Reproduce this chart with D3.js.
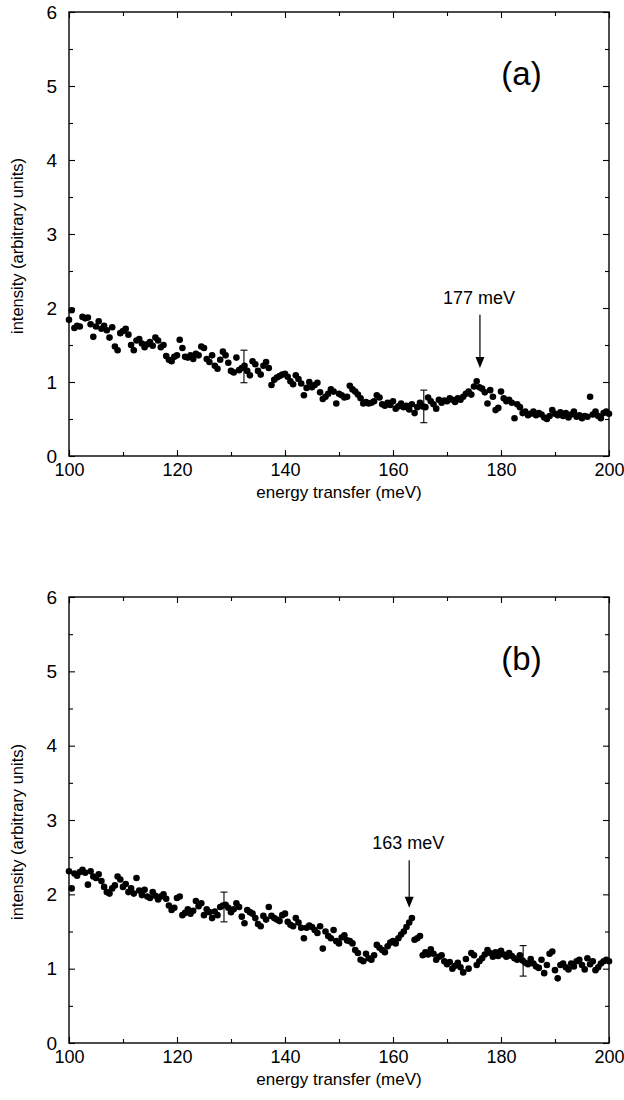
<!DOCTYPE html>
<html>
<head>
<meta charset="utf-8">
<script src="https://cdn.jsdelivr.net/npm/d3@7"></script>
<style>
  body { margin: 0; background: #fff; }
  text { font-family: "Liberation Sans", Arial, sans-serif; fill: #000; }
</style>
</head>
<body>
<script>
// energy grid of the spectrometer: one channel every 0.5 meV from 100 to 200
const energy = d3.range(0, 201).map(i => 100 + i * 0.5);

// panel (a) intensities, one per channel
const intensityA = [
  1.84, 1.97, 1.73, 1.76, 1.75, 1.88, 1.86, 1.87, 1.78, 1.61,
  1.75, 1.82, 1.72, 1.76, 1.70, 1.60, 1.74, 1.48, 1.43, 1.66,
  1.69, 1.72, 1.64, 1.50, 1.43, 1.56, 1.58, 1.52, 1.47, 1.51,
  1.54, 1.49, 1.60, 1.56, 1.47, 1.50, 1.35, 1.30, 1.28, 1.34,
  1.36, 1.57, 1.46, 1.34, 1.33, 1.36, 1.31, 1.38, 1.36, 1.48,
  1.46, 1.31, 1.27, 1.36, 1.22, 1.18, 1.30, 1.41, 1.36, 1.26,
  1.15, 1.13, 1.33, 1.16, 1.19, 1.22, 1.15, 1.09, 1.28, 1.24,
  1.15, 1.10, 1.22, 1.27, 1.19, 0.96, 1.03, 1.06, 1.08, 1.10,
  1.11, 1.07, 1.01, 0.97, 1.09, 1.04, 0.98, 0.82, 0.92, 1.00,
  0.93, 0.96, 0.99, 0.86, 0.77, 0.80, 0.84, 0.90, 0.87, 0.71,
  0.84, 0.82, 0.79, 0.80, 0.95, 0.90, 0.87, 0.83, 0.78, 0.71,
  0.73, 0.71, 0.72, 0.74, 0.82, 0.79, 0.70, 0.68, 0.72, 0.69,
  0.74, 0.64, 0.67, 0.71, 0.66, 0.68, 0.63, 0.70, 0.58, 0.66,
  0.72, 0.67, 0.66, 0.79, 0.74, 0.70, 0.64, 0.76, 0.72, 0.75,
  0.74, 0.78, 0.76, 0.73, 0.78, 0.76, 0.80, 0.84, 0.87, 0.83,
  0.94, 1.01, 0.93, 0.91, 0.86, 0.71, 0.89, 0.80, 0.62, 0.65,
  0.87, 0.78, 0.74, 0.76, 0.72, 0.51, 0.70, 0.66, 0.58, 0.60,
  0.55, 0.57, 0.60, 0.55, 0.58, 0.56, 0.52, 0.50, 0.54, 0.62,
  0.57, 0.55, 0.59, 0.54, 0.58, 0.52, 0.56, 0.60, 0.53, 0.55,
  0.51, 0.54, 0.53, 0.80, 0.56, 0.60, 0.54, 0.51, 0.58, 0.60,
  0.57
];

// panel (b) intensities, one per channel
const intensityB = [
  2.31, 2.08, 2.28, 2.25, 2.30, 2.33, 2.29, 2.13, 2.31, 2.24,
  2.22, 2.27, 2.18, 2.10, 2.03, 2.01, 2.08, 2.12, 2.24, 2.20,
  2.10, 2.14, 2.03, 2.08, 2.01, 2.22, 2.05, 1.99, 2.06, 1.97,
  1.95, 2.03, 1.98, 1.93, 1.97, 2.00, 1.94, 1.85, 1.79, 1.82,
  1.95, 1.97, 1.72, 1.75, 1.80, 1.74, 1.78, 1.91, 1.84, 1.88,
  1.72, 1.80, 1.76, 1.68, 1.77, 1.72, 1.83, 1.85, 1.86, 1.82,
  1.76, 1.80, 1.88, 1.83, 1.70, 1.61, 1.79, 1.76, 1.74, 1.68,
  1.60, 1.57, 1.71, 1.66, 1.83, 1.71, 1.68, 1.66, 1.64, 1.72,
  1.74, 1.63, 1.59, 1.57, 1.68, 1.62, 1.55, 1.41, 1.55, 1.58,
  1.56, 1.52, 1.48, 1.57, 1.27, 1.50, 1.44, 1.41, 1.52, 1.37,
  1.34, 1.42, 1.45, 1.38, 1.37, 1.34, 1.25, 1.21, 1.12, 1.10,
  1.20, 1.14, 1.12, 1.18, 1.32, 1.28, 1.25, 1.22, 1.30, 1.35,
  1.37, 1.34, 1.41, 1.46, 1.50, 1.56, 1.62, 1.68, 1.39, 1.41,
  1.44, 1.18, 1.22, 1.19, 1.26, 1.20, 1.12, 1.16, 1.18, 1.10,
  1.06, 1.09, 1.00, 1.04, 1.08, 1.02, 0.95, 1.13, 1.00, 1.21,
  1.18, 1.05, 1.10, 1.14, 1.19, 1.25, 1.21, 1.16, 1.22, 1.17,
  1.24, 1.19, 1.16, 1.21, 1.17, 1.14, 1.12, 1.18, 1.11, 1.08,
  1.06, 1.13, 1.07, 1.03, 1.01, 1.12, 0.94, 1.05, 1.20, 1.23,
  0.98, 0.87, 1.05, 1.07, 1.02, 0.99, 1.07, 1.03, 1.10, 1.12,
  1.05, 0.99, 1.14, 1.06, 1.10, 0.98, 1.02, 1.07, 1.10, 1.12,
  1.10
];

// representative error bars: [energy, low, high]
const errorsA = [[132.4, 0.99, 1.43], [165.7, 0.45, 0.89]];
const errorsB = [[128.7, 1.63, 2.03], [184.1, 0.90, 1.31]];

// peak markers: [energy, arrow top, arrow tip]
const peakA = [176.1, 1.91, 1.19];
const peakB = [163.0, 2.46, 1.82];
const peakLabels = ["177 meV", "163 meV"];
const panelLabels = ["(a)", "(b)"];

const xMajor = [100, 120, 140, 160, 180, 200];
const xMinor = [110, 130, 150, 170, 190];
const yMajor = [0, 1, 2, 3, 4, 5, 6];
const yMinor = [0.5, 1.5, 2.5, 3.5, 4.5, 5.5];

const W = 624, H = 1100;
const left = 69, plotW = 540;

const svg = d3.select("body").append("svg")
    .attr("width", W)
    .attr("height", H);

function drawPanel(top, plotH, values, errors, peak, peakText, label) {
  const g = svg.append("g").attr("transform", "translate(" + left + "," + top + ")");
  const x = d3.scaleLinear().domain([100, 200]).range([0, plotW]);
  const y = d3.scaleLinear().domain([0, 6]).range([plotH, 0]);

  // ticks pointing inward on all four sides
  const addAxis = (axis, tf, labels) => {
    const a = g.append("g").attr("transform", tf).call(axis);
    a.select(".domain").remove();
    a.selectAll(".tick line").attr("stroke", "#000").attr("stroke-width", 1.1);
    if (!labels) a.selectAll(".tick text").remove();
    return a;
  };

  const bx = addAxis(d3.axisBottom(x).tickValues(xMajor).tickSize(-6).tickPadding(7).tickFormat(d3.format("d")),
    "translate(0," + plotH + ")", true);
  bx.selectAll("text").attr("font-size", 18);
  addAxis(d3.axisBottom(x).tickValues(xMinor).tickSize(-4), "translate(0," + plotH + ")", false);
  addAxis(d3.axisTop(x).tickValues(xMajor).tickSize(-6), "translate(0,0)", false);
  addAxis(d3.axisTop(x).tickValues(xMinor).tickSize(-4), "translate(0,0)", false);

  const ly = addAxis(d3.axisLeft(y).tickValues(yMajor).tickSize(-6).tickPadding(12).tickFormat(d3.format("d")),
    "translate(0,0)", true);
  ly.selectAll("text").attr("font-size", 19);
  addAxis(d3.axisLeft(y).tickValues(yMinor).tickSize(-4), "translate(0,0)", false);
  addAxis(d3.axisRight(y).tickValues(yMajor).tickSize(-6), "translate(" + plotW + ",0)", false);
  addAxis(d3.axisRight(y).tickValues(yMinor).tickSize(-4), "translate(" + plotW + ",0)", false);

  // frame
  g.append("rect")
    .attr("x", 0).attr("y", 0)
    .attr("width", plotW).attr("height", plotH)
    .attr("fill", "none")
    .attr("stroke", "#000")
    .attr("stroke-width", 1.4);

  // data points
  g.selectAll("circle.pt")
    .data(values)
    .join("circle")
    .attr("class", "pt")
    .attr("cx", (d, i) => x(energy[i]))
    .attr("cy", d => y(d))
    .attr("r", 3.3)
    .attr("fill", "#000");

  // error bars
  errors.forEach(e => {
    const ex = x(e[0]);
    g.append("line")
      .attr("x1", ex).attr("x2", ex)
      .attr("y1", y(e[1])).attr("y2", y(e[2]))
      .attr("stroke", "#000").attr("stroke-width", 1.1);
    [e[1], e[2]].forEach(v => {
      g.append("line")
        .attr("x1", ex - 3.5).attr("x2", ex + 3.5)
        .attr("y1", y(v)).attr("y2", y(v))
        .attr("stroke", "#000").attr("stroke-width", 1.1);
    });
  });

  // peak arrow and its label
  const px = x(peak[0]), pTop = y(peak[1]), pTip = y(peak[2]);
  g.append("line")
    .attr("x1", px).attr("x2", px)
    .attr("y1", pTop).attr("y2", pTip - 9)
    .attr("stroke", "#000").attr("stroke-width", 1.2);
  g.append("path")
    .attr("d", "M" + (px - 4.5) + "," + (pTip - 11) + "L" + (px + 4.5) + "," + (pTip - 11) + "L" + px + "," + pTip + "Z")
    .attr("fill", "#000");
  g.append("text")
    .attr("x", px - 1).attr("y", pTop - 11)
    .attr("text-anchor", "middle")
    .attr("font-size", 18)
    .text(peakText);

  // panel letter
  g.append("text")
    .attr("x", x(183.8)).attr("y", y(5) - 1)
    .attr("text-anchor", "middle")
    .attr("font-size", 33)
    .text(label);

  // axis titles
  g.append("text")
    .attr("x", plotW / 2).attr("y", plotH + 42)
    .attr("text-anchor", "middle")
    .attr("font-size", 17)
    .text("energy transfer (meV)");
  g.append("text")
    .attr("transform", "translate(-46," + (plotH / 2 + 12) + ") rotate(-90)")
    .attr("text-anchor", "middle")
    .attr("font-size", 16.5)
    .text("intensity (arbitrary units)");
}

drawPanel(12, 444, intensityA, errorsA, peakA, peakLabels[0], panelLabels[0]);
drawPanel(597, 446, intensityB, errorsB, peakB, peakLabels[1], panelLabels[1]);
</script>
</body>
</html>
